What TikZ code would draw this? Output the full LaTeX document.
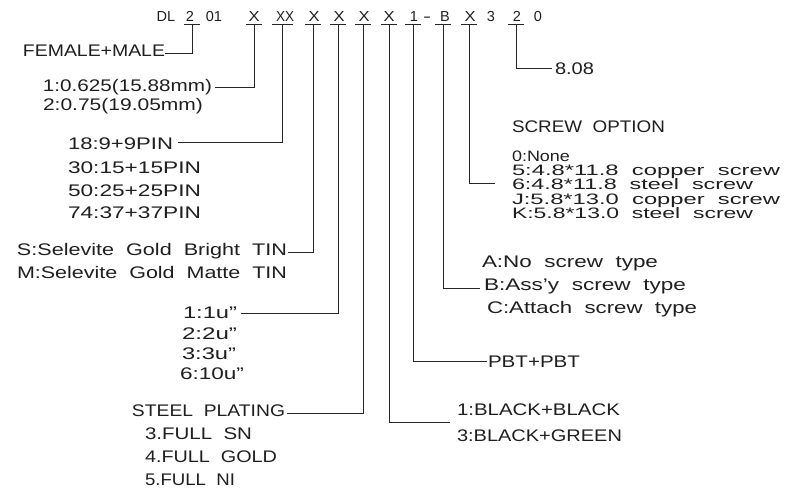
\documentclass[tikz,border=0pt]{standalone}
\usepackage{fontspec}
\setmainfont{Liberation Sans}
\usetikzlibrary{calc}
\newcommand{\fitw}[2]{\resizebox{#1pt}{\height}{#2}}
\newcommand{\fitwt}[2]{\resizebox{#1pt}{0.9\height}{#2}}
\begin{document}
\begin{tikzpicture}[x=1pt,y=-1pt,
  lbl/.style={inner sep=0pt, outer sep=0pt, text=black!88, font=\fontsize{16.8}{18}\selectfont},
  lw/.style={lbl, anchor=base west},
  le/.style={lbl, anchor=base east},
  codec/.style={inner sep=0pt, outer sep=0pt, anchor=base, text=black!88, font=\fontsize{14.5}{16}\selectfont},
  lead/.style={line width=0.8pt, black!85, line join=miter},
]
\useasboundingbox (0,0) rectangle (796,490);

% ---- top code line ----
\node[codec] (cDL) at (166,21) {DL};
\node[codec] (c2)  at (190,21) {2};
\node[codec] (c01) at (214,21) {01};
\node[codec] (cXa) at (254,21) {\fitw{11}{X}};
\node[codec] (cXX) at (285,21) {\fitw{18}{XX}};
\node[codec] (cXb) at (314,21) {\fitw{11}{X}};
\node[codec] (cXc) at (339,21) {\fitw{11}{X}};
\node[codec] (cXd) at (364,21) {\fitw{11}{X}};
\node[codec] (cXe) at (389,21) {\fitw{11}{X}};
\node[codec] (c1)  at (414,21) {1};
\node[codec] (cdh) at (427,21) {\fitw{8}{-}};
\node[codec] (cB)  at (445,21) {B};
\node[codec] (cXf) at (470,21) {\fitw{11}{X}};
\node[codec] (c3)  at (491,21) {3};
\node[codec] (c2b) at (517,21) {2};
\node[codec] (c0)  at (538,21) {0};

% underline points (top of each leader)
\coordinate (k2)  at (192,24);
\coordinate (kXa) at (254,24);
\coordinate (kXX) at (282,24);
\coordinate (kXb) at (313,24);
\coordinate (kXc) at (338,24);
\coordinate (kXd) at (363,24);
\coordinate (kXe) at (389,24);
\coordinate (k1)  at (413,24);
\coordinate (kB)  at (443,24);
\coordinate (kXf) at (469,24);
\coordinate (k2b) at (516,24);

\foreach \k in {k2,kXa,kXb,kXc,kXd,kXe,k1,kB,kXf,k2b}
  \draw[lead] ($(\k)+(-8,0)$) -- ($(\k)+(8,0)$);
\draw[lead] ($(kXX)+(-10,0)$) -- ($(kXX)+(11,0)$);

% ---- left labels ----
\node[le] (fm)  at (165,56)  {\fitw{142}{FEMALE+MALE}};
\node[le] (s1a) at (212,91)  {\fitw{169}{1:0.625(15.88mm)}};
\node[lw] (s1b) at (43,110)  {\fitw{160}{2:0.75(19.05mm)}};

\node[lw] (p1) at (68,149) {\fitw{105}{18:9+9PIN}};
\node[lw] (p2) at (68,173) {\fitw{133}{30:15+15PIN}};
\node[lw] (p3) at (68,196) {\fitw{133}{50:25+25PIN}};
\node[lw] (p4) at (68,218) {\fitw{133}{74:37+37PIN}};

\node[le] (t1) at (287,255) {\fitw{270}{S:Selevite\ \ Gold\ \ Bright\ \ TIN}};
\node[lw] (t2) at (17,278)  {\fitw{270}{M:Selevite\ \ Gold\ \ Matte\ \ TIN}};

\node[lw] (u1) at (183,318) {\fitw{54}{1:1u”}};
\node[lw] (u2) at (182,339) {\fitw{55}{2:2u”}};
\node[lw] (u3) at (182,359) {\fitw{54}{3:3u”}};
\node[lw] (u4) at (180,379) {\fitw{64}{6:10u”}};

\node[le] (st) at (285,416) {\fitw{153}{STEEL\ \ PLATING}};
\node[lw] (f1) at (145,439) {\fitw{107}{3.FULL\ \ SN}};
\node[lw] (f2) at (145,462) {\fitw{132}{4.FULL\ \ GOLD}};
\node[lw] (f3) at (145,485) {\fitw{90}{5.FULL\ \ NI}};

% ---- right labels ----
\node[lw] (e8) at (555,74) {\fitw{39}{8.08}};

\node[lw] (so) at (512,132) {\fitw{153}{SCREW\ \ OPTION}};
\node[lw] (o0) at (512,161)   {\fitwt{58}{0:None}};
\node[lw] (o5) at (512,175)   {\fitwt{268}{5:4.8*11.8\ \ copper\ \ screw}};
\node[lw] (o6) at (512,189.5) {\fitwt{241}{6:4.8*11.8\ \ steel\ \ screw}};
\node[lw] (oJ) at (512,204)   {\fitwt{268}{J:5.8*13.0\ \ copper\ \ screw}};
\node[lw] (oK) at (512,218.5) {\fitwt{241}{K:5.8*13.0\ \ steel\ \ screw}};

\node[lw] (ta) at (482,267) {\fitw{176}{A:No\ \ screw\ \ type}};
\node[lw] (tb) at (484,290) {\fitw{202}{B:Ass’y\ \ screw\ \ type}};
\node[lw] (tc) at (487,313) {\fitw{210}{C:Attach\ \ screw\ \ type}};

\node[lw] (pbt) at (488,367) {\fitw{92}{PBT+PBT}};

\node[lw] (bk1) at (457,415) {\fitw{163}{1:BLACK+BLACK}};
\node[lw] (bk2) at (457,441) {\fitw{165}{3:BLACK+GREEN}};

% ---- leaders ----
\draw[lead] (k2)  |- ($(fm.base east)+(0,-3)$);
\draw[lead] (kXa) |- ($(s1a.base east)+(3,-4)$);
\draw[lead] (kXX) |- ($(p1.base east)+(5,-7)$);
\draw[lead] (kXb) |- ($(t1.base east)+(1,-3)$);
\draw[lead] (kXc) |- ($(u1.base east)+(4,-5)$);
\draw[lead] (kXd) |- ($(st.base east)+(2,-3)$);
\draw[lead] (kXe) |- ($($(bk1.base west)!0.5!(bk2.base west)$)+(-7,-6)$);
\draw[lead] (k1)  |- ($(pbt.base west)+(-1,-6)$);
\draw[lead] (kB)  |- ($(tb.base west)+(-4,-2)$);
\draw[lead] (kXf) |- ($(o6.base west)+(-17,-6)$);
\draw[lead] (k2b) |- ($(e8.base west)+(-3,-6)$);
\end{tikzpicture}
\end{document}
